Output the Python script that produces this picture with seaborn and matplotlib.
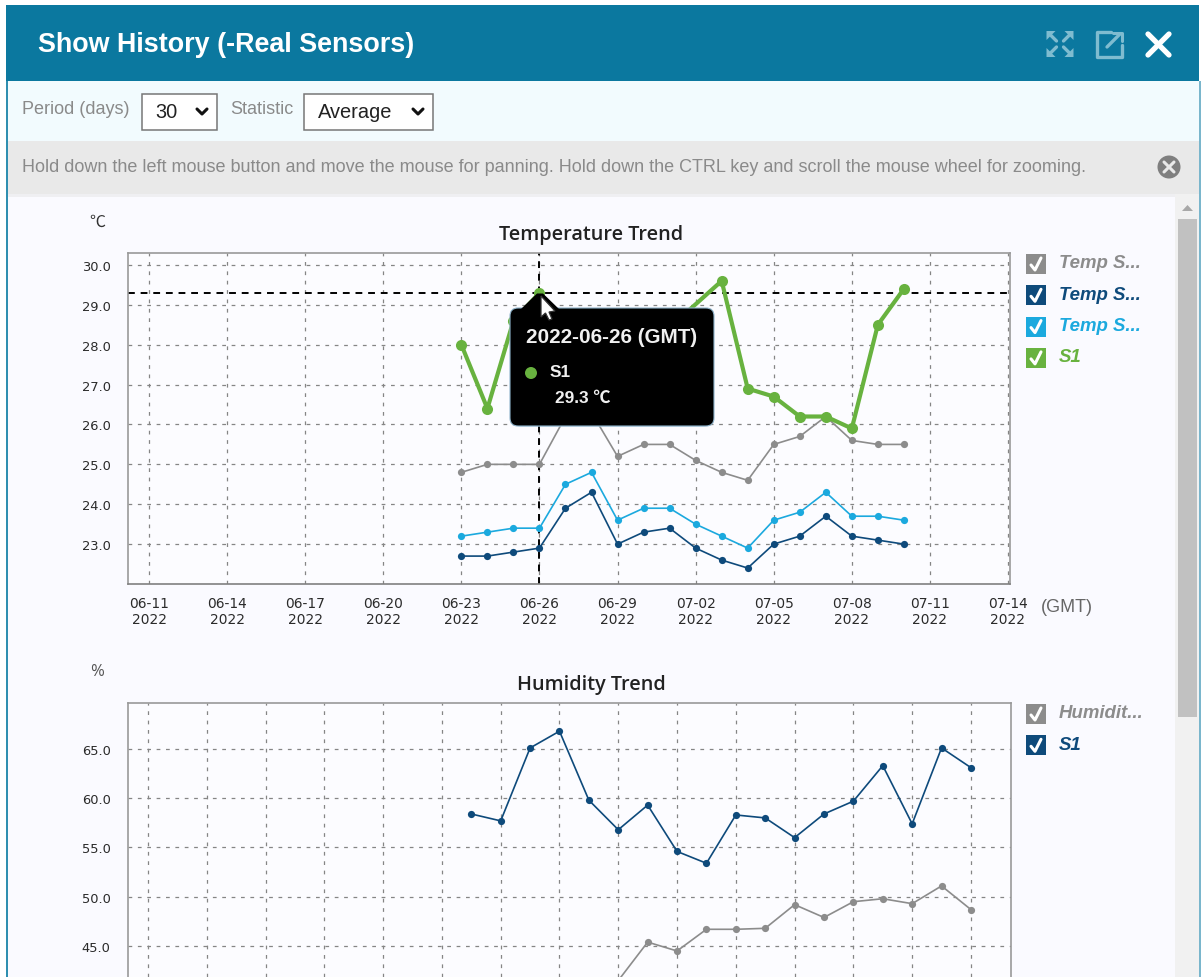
import matplotlib
matplotlib.use("Agg")
import matplotlib.pyplot as plt
import matplotlib.dates as mdates
from matplotlib.patches import Rectangle, FancyBboxPatch, Polygon, Circle
import pandas as pd
import seaborn as sns

sns.set_theme(style="white")
plt.rcParams['font.family'] = ['DejaVu Sans']

# ---------- data ----------
days = pd.date_range("2022-06-23", "2022-07-10", freq="D")
temp_s_gray = [24.8, 25.0, 25.0, 25.0, 26.2, 26.3, 25.2, 25.5, 25.5, 25.1, 24.8, 24.6, 25.5, 25.7, 26.2, 25.6, 25.5, 25.5]
temp_s_navy = [22.7, 22.7, 22.8, 22.9, 23.9, 24.3, 23.0, 23.3, 23.4, 22.9, 22.6, 22.4, 23.0, 23.2, 23.7, 23.2, 23.1, 23.0]
temp_s_cyan = [23.2, 23.3, 23.4, 23.4, 24.5, 24.8, 23.6, 23.9, 23.9, 23.5, 23.2, 22.9, 23.6, 23.8, 24.3, 23.7, 23.7, 23.6]
temp_s1 = [28.0, 26.4, 28.6, 29.3, 28.5, 28.5, 28.0, 28.3, 28.43, None, 29.6, 26.9, 26.7, 26.2, 26.2, 25.9, 28.5, 29.4]
hum_s1 = [58.4, 57.7, 65.1, 66.8, 59.8, 56.8, 59.3, 54.6, 53.4, 58.3, 58.0, 56.0, 58.4, 59.7, 63.3, 57.4, 65.1, 63.1]
hum_gray = [None, None, None, None, None, 41.5, 45.4, 44.5, 46.7, 46.7, 46.8, 49.2, 47.9, 49.5, 49.8, 49.3, 51.1, 48.7]

temp_xticks = pd.to_datetime(["2022-06-11", "2022-06-14", "2022-06-17", "2022-06-20", "2022-06-23", "2022-06-26",
                              "2022-06-29", "2022-07-02", "2022-07-05", "2022-07-08", "2022-07-11", "2022-07-14"])
temp_xlabels = ["06-11\n2022", "06-14\n2022", "06-17\n2022", "06-20\n2022", "06-23\n2022", "06-26\n2022",
                "06-29\n2022", "07-02\n2022", "07-05\n2022", "07-08\n2022", "07-11\n2022", "07-14\n2022"]
temp_yticks = [23.0, 24.0, 25.0, 26.0, 27.0, 28.0, 29.0, 30.0]
hum_xticks = pd.date_range("2022-06-12", "2022-07-10", freq="2D")
hum_yticks = [45.0, 50.0, 55.0, 60.0, 65.0]
hover_date = pd.Timestamp("2022-06-26")
hover_value = 29.3

temp_legend = ["Temp S...", "Temp S...", "Temp S...", "S1"]
hum_legend = ["Humidit...", "S1"]

GRAY, NAVY, CYAN, GREEN = "#8c8c8c", "#0e4a7b", "#1ba9de", "#68b23f"
TEAL = "#0b789f"
W, H = 1201, 978

fig = plt.figure(figsize=(W / 100, H / 100), dpi=100, facecolor="white")


def px_axes(l, t, r, b, zorder, **kw):
    return fig.add_axes([l / W, 1 - b / H, (r - l) / W, (b - t) / H], zorder=zorder, **kw)


# ---------- page chrome behind the charts ----------
bg = px_axes(0, 0, W, H, 0)
bg.set_xlim(0, W); bg.set_ylim(H - 1, -1); bg.axis("off")
bg.add_patch(Rectangle((6, 5), 1193, 76, color=TEAL, lw=0))
bg.add_patch(Rectangle((6, 81), 1194, 60, color="#f2fbfe", lw=0))
bg.add_patch(Rectangle((7, 141), 1192, 53, color="#e9e9e9", lw=0))
bg.add_patch(Rectangle((7, 194), 1168, 785, color="#fafaff", lw=0))
bg.add_patch(Rectangle((7, 194), 1168, 3, color="#efeff2", lw=0))
bg.add_patch(Rectangle((1175, 194), 24, 785, color="#f1f1f1", lw=0))
bg.add_patch(Rectangle((1178, 219), 19, 498, color="#c1c1c1", lw=0))
bg.add_patch(Polygon([[1182, 211], [1193, 211], [1187.5, 205]], color="#a8a8a8", lw=0))
bg.add_patch(Rectangle((6, 81), 1.5, 898, color="#2f8fb0", lw=0))
bg.add_patch(Rectangle((1199, 81), 1.5, 898, color="#7ab6cc", lw=0))


def style_axes(ax, xticks, xlim, ylim, yticks):
    ax.set_facecolor("#fcfcff")
    ax.set_xlim(*xlim)
    ax.set_ylim(*ylim)
    ax.set_xticks(xticks)
    ax.set_yticks(yticks)
    ax.set_yticklabels([f"{v:.1f}" for v in yticks], fontsize=9.4, color="#2a2a2a")
    ax.grid(True, color="#858585", lw=0.9, ls=(0, (3, 4.5)))
    ax.set_axisbelow(True)
    ax.set_xlabel(""); ax.set_ylabel("")
    for s in ax.spines.values():
        s.set_visible(True)
        s.set_color("#999999")
        s.set_linewidth(1.2)
    ax.spines["bottom"].set_color("#808080")
    ax.tick_params(axis="y", length=0, pad=12.5)
    ax.tick_params(axis="x", length=0, pad=9)


def draw(ax, y, color, lw=1.2, ms=5.2):
    sns.lineplot(x=days, y=y, ax=ax, color=color, linewidth=lw, marker="o", markersize=ms,
                 markeredgewidth=0, estimator=None, errorbar=None, legend=False)


TITLE_X = (591 - 128) / 882

# ---------- temperature chart ----------
ax1 = px_axes(128, 254, 1010, 585, 1)
draw(ax1, temp_s_gray, GRAY)
draw(ax1, temp_s_navy, NAVY)
draw(ax1, temp_s_cyan, CYAN)
draw(ax1, temp_s1, GREEN, lw=3.0, ms=8)
d0 = mdates.date2num(temp_xticks[0])
style_axes(ax1, temp_xticks, (d0 - 21 / 26.03, d0 + 33 + 2 / 26.03), (22.0, 30.30), temp_yticks)
ax1.set_xticklabels(temp_xlabels, fontsize=9.9, color="#2a2a2a", linespacing=1.15)
ax1.axvline(hover_date, color="black", lw=1.4, ls=(0, (3.5, 3)), zorder=1.5)
ax1.axhline(hover_value, color="black", lw=1.4, ls=(0, (3.5, 3)), zorder=1.5)
ax1.set_title("Temperature Trend", fontsize=14.3, family="Open Sans", weight=600, color="#222222", pad=10, x=TITLE_X)

# ---------- humidity chart (cut off by the scrolling panel) ----------
ax2 = px_axes(128, 704, 1011, 978, 1)
draw(ax2, hum_gray, GRAY)
draw(ax2, hum_s1, NAVY)
d1 = mdates.date2num(hum_xticks[0])
style_axes(ax2, hum_xticks, (d1 - 20 / 29.35, d1 + 28 + 40 / 29.35), (41.86, 69.66), hum_yticks)
ax2.set_xticklabels([])
ax2.spines["bottom"].set_visible(False)
ax2.set_title("Humidity Trend", fontsize=14.3, family="Open Sans", weight=600, color="#222222", pad=10, x=TITLE_X)

# ---------- overlay: header, controls, legends, tooltip ----------
ov = px_axes(0, 0, W, H, 5)
ov.set_xlim(0, W); ov.set_ylim(H - 1, -1); ov.axis("off"); ov.patch.set_alpha(0)
LIB = "Liberation Sans"
ov.text(38, 44, "Show History (-Real Sensors)", family=LIB, weight="bold", fontsize=19.4, color="white", va="center")

# header icons
ICON = "#7fbcd0"
for sx, sy in [(-1, -1), (1, -1), (-1, 1), (1, 1)]:
    cx, cy = 1060, 44
    ox, oy = cx + sx * 13.5, cy + sy * 13
    ov.add_patch(Polygon([[ox, oy], [ox - sx * 9, oy], [ox, oy - sy * 9]], color=ICON, lw=0))
    ov.plot([ox - sx * 4, ox - sx * 10], [oy - sy * 4, oy - sy * 10], color=ICON, lw=2.4)
ov.plot([1111, 1097, 1097, 1122, 1122], [32, 32, 57, 57, 45], color=ICON, lw=2.4)
ov.plot([1107, 1120], [47, 34], color=ICON, lw=2.4)
ov.plot([1113, 1122, 1122], [32.5, 32.5, 41], color=ICON, lw=2.2)
ov.plot([1148, 1169], [34, 55], color="white", lw=3.8, solid_capstyle="round")
ov.plot([1169, 1148], [34, 55], color="white", lw=3.8, solid_capstyle="round")

# controls
ov.text(22, 109, "Period (days)", family=LIB, fontsize=13, color="#8a8a8a", va="center")
ov.text(230, 109, "Statistic", family=LIB, fontsize=13, color="#8a8a8a", va="center")
ov.add_patch(Rectangle((142, 94), 75, 36, fc="white", ec="#777777", lw=1.1))
ov.add_patch(Rectangle((304, 94), 129, 36, fc="white", ec="#777777", lw=1.1))
ov.text(155, 112, "30", family=LIB, fontsize=14.4, color="#222222", va="center")
ov.text(318, 112, "Average", family=LIB, fontsize=14.4, color="#222222", va="center")
for x in (202, 418):
    ov.plot([x - 5, x, x + 5], [109, 114, 109], color="#111111", lw=2.2)

# notice bar
ov.text(22, 167, "Hold down the left mouse button and move the mouse for panning. Hold down the CTRL key and scroll the mouse wheel for zooming.",
        family=LIB, fontsize=12.96, color="#8a8a8a", va="center")
ov.add_patch(Circle((1169, 167), 11.5, color="#7f7f7f", lw=0))
ov.plot([1164, 1174], [162, 172], color="#e9e9e9", lw=2.2)
ov.plot([1174, 1164], [162, 172], color="#e9e9e9", lw=2.2)

# unit labels
ov.text(97, 221, "℃", family="Noto Sans CJK SC", fontsize=11.5, color="#333333", ha="center", va="center")
ov.text(97, 671, "%", fontsize=12, family="Open Sans", color="#555555", ha="center", va="center")
ov.text(1067, 607, "(GMT)", family=LIB, fontsize=13, color="#666666", ha="center", va="center")


# legends
def legend(y0, names, colors):
    for i, (name, col) in enumerate(zip(names, colors)):
        y = y0 + i * 31.3
        ov.add_patch(Rectangle((1026, y), 20, 20, color=col, lw=0))
        ov.plot([1031, 1035, 1041], [y + 11, y + 16, y + 4], color="white", lw=2.2)
        ov.text(1059, y + 9, name, family=LIB, style="italic", weight="bold", fontsize=13.4, color=col, va="center")


legend(254, temp_legend, [GRAY, NAVY, CYAN, GREEN])
legend(704, hum_legend, [GRAY, NAVY])

# tooltip
ov.add_patch(FancyBboxPatch((514, 314), 197, 113, boxstyle="round,pad=0,rounding_size=8", fc="#9dbdd8", ec="none", alpha=0.45))
ov.add_patch(FancyBboxPatch((510, 308), 204, 118, boxstyle="round,pad=0,rounding_size=8", fc="black", ec="#8fb4cc", lw=0.8))
ov.add_patch(Polygon([[520, 310], [537, 293.5], [543, 293.5], [560, 310]], color="black", lw=0))
ov.text(526, 337, f"{hover_date:%Y-%m-%d} (GMT)", family=LIB, weight="bold", fontsize=14.9, color="#f0f0f0", va="center")
ov.add_patch(Circle((531, 373), 6, color=GREEN, lw=0))
ov.text(550, 372, temp_legend[3], family=LIB, weight="bold", fontsize=12.4, color="#f0f0f0", va="center")
ov.text(555, 397, f"{hover_value} ℃", family=["Liberation Sans", "Noto Sans CJK SC"], weight="bold", fontsize=12.4, color="#f0f0f0", va="center")

# mouse pointer
ov.add_patch(Polygon([[541, 296], [541, 317], [545.5, 313], [549, 320], [552, 319], [549, 312], [555, 311]],
                     fc="white", ec="#333333", lw=0.9))

fig.savefig("out.png", dpi=100, facecolor="white")
